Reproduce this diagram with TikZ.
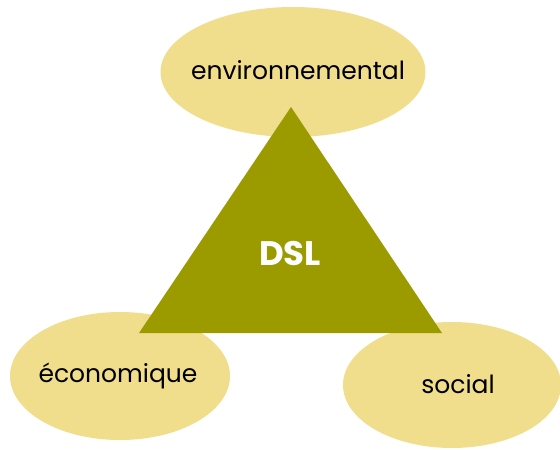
\documentclass[tikz,border=0pt]{standalone}
\usepackage{fontspec}
\setmainfont{Poppins}
\usetikzlibrary{shapes.geometric}
\definecolor{sable}{HTML}{F0DE8C}
\definecolor{olive}{HTML}{9B9B00}
\tikzset{
  pilier/.style={ellipse,fill=sable,inner sep=0},
  titre/.style={font=\fontsize{25}{30}\selectfont,inner sep=0}
}
\begin{document}
\begin{tikzpicture}[x=1pt,y=-1pt]
    \useasboundingbox (0,0) rectangle (560,450);
    \node (env) at (293,72) [pilier,minimum width=265,minimum height=130] {};
    \node (eco) at (120,376) [pilier,minimum width=220,minimum height=128] {};
    \node (soc) at (452,385) [pilier,minimum width=218,minimum height=126] {};
    \node (envtxt) at (298,70) [titre] {environnemental};
    \node (ecotxt) at (118,376) [titre] {économique};
    \node (soctxt) at (458,384) [titre] {social};

    \coordinate (sommet) at (291,107);
    \coordinate (gauche) at (139,333);
    \coordinate (droite) at (442,333);
    \fill[olive] (sommet) -- (gauche) -- (droite) -- cycle;
    \node (dsl) at (290,254) [text=white,font=\fontsize{34}{40}\selectfont\bfseries] {DSL};

  \end{tikzpicture}
\end{document}
